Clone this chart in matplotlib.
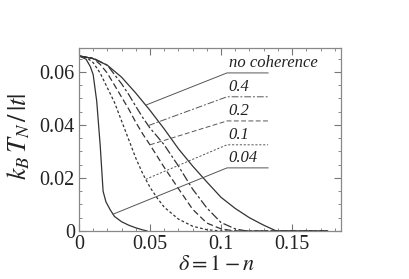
import numpy as np
import matplotlib
matplotlib.use("Agg")
import matplotlib.pyplot as plt
from matplotlib.ticker import MultipleLocator

plt.rcParams['font.family'] = ['Liberation Serif', 'DejaVu Serif']
plt.rcParams['mathtext.fontset'] = 'stix'

# ------------------------------ Data ------------------------------

# no coherence (solid)
x_nc = [0, 0.01, 0.02, 0.03, 0.04, 0.05, 0.06, 0.07, 0.08, 0.09, 0.10, 0.11, 0.12, 0.13, 0.139, 0.175]
y_nc = [0.066, 0.065, 0.0625, 0.058, 0.052, 0.0455, 0.0385, 0.031, 0.0245, 0.0185, 0.0127, 0.0085, 0.005, 0.0022, 0.0, 0.0]

# 0.4 (dash-dot)
x_04 = [0, 0.01, 0.02, 0.03, 0.035, 0.04, 0.045, 0.05, 0.055, 0.06, 0.07, 0.08, 0.09, 0.10, 0.11, 0.118, 0.175]
y_04 = [0.066, 0.0652, 0.0625, 0.0555, 0.0515, 0.047, 0.0427, 0.0388, 0.0357, 0.0325, 0.0245, 0.0158, 0.0087, 0.0032, 0.0008, 0.0, 0.0]

# 0.2 (dashed)
x_02 = [0, 0.01, 0.015, 0.02, 0.025, 0.03, 0.035, 0.04, 0.045, 0.05, 0.06, 0.07, 0.08, 0.09, 0.10, 0.11, 0.175]
y_02 = [0.066, 0.065, 0.0628, 0.0595, 0.055, 0.0505, 0.046, 0.041, 0.0365, 0.0325, 0.024, 0.016, 0.0082, 0.003, 0.0008, 0.0, 0.0]

# 0.1 (short dashes)
x_01 = [0, 0.005, 0.01, 0.015, 0.02, 0.025, 0.03, 0.035, 0.04, 0.045, 0.05, 0.055, 0.06, 0.07, 0.08, 0.09, 0.10, 0.175]
y_01 = [0.066, 0.0655, 0.0635, 0.0595, 0.054, 0.0485, 0.0415, 0.0345, 0.0275, 0.0215, 0.0165, 0.0125, 0.009, 0.0045, 0.0018, 0.0005, 0.0, 0.0]

# 0.04 (solid, steep)
x_004 = [0, 0.005, 0.008, 0.01, 0.0125, 0.015, 0.017, 0.019, 0.022, 0.025, 0.03, 0.035, 0.04, 0.045, 0.048]
y_004 = [0.066, 0.0648, 0.062, 0.059, 0.049, 0.032, 0.015, 0.011, 0.008, 0.0055, 0.0035, 0.0022, 0.0012, 0.0004, 0.0]

labels = ['no coherence', '0.4', '0.2', '0.1', '0.04']
attach_x = [0.0470, 0.0488, 0.050, 0.0470, 0.024]
label_y = [0.0596, 0.0506, 0.0415, 0.0325, 0.0238]

# ------------------------------ Plot ------------------------------

fig = plt.figure(figsize=(4.09, 2.79), dpi=100)
ax = fig.add_axes([0.193, 0.172, 0.641, 0.656])

styles = ['-', (0, (7, 2, 2, 2)), (0, (5, 2.5)), (0, (2.2, 1.8)), '-']
series = [(x_nc, y_nc), (x_04, y_04), (x_02, y_02), (x_01, y_01), (x_004, y_004)]
line_color = '#333333'

lab_x0, lab_x1 = 0.1042, 0.1331
for (xs, ys), ls, lab, ax_x, ly in zip(series, styles, labels, attach_x, label_y):
    ax.plot(xs, ys, color=line_color, lw=0.9, linestyle=ls)
    ay = np.interp(ax_x, xs, ys)
    # leader line and underline
    ax.plot([ax_x, lab_x0, lab_x1], [ay, ly, ly], color='#555555', lw=0.7, linestyle=ls)
    ax.text(lab_x0 + 0.0013, ly + 0.0006, lab, fontsize=12, style='italic',
            ha='left', va='bottom', color='#222222')

ax.set_xlim(0, 0.1845)
ax.set_ylim(0, 0.069)
ax.xaxis.set_minor_locator(MultipleLocator(0.01))
ax.yaxis.set_minor_locator(MultipleLocator(0.005))
ax.set_xticks([0, 0.05, 0.1, 0.15])
ax.set_xticklabels(['0', '0.05', '0.1', '0.15'])
ax.set_yticks([0, 0.02, 0.04, 0.06])
ax.set_yticklabels(['0', '0.02', '0.04', '0.06'])

ax.tick_params(which='both', direction='in', top=True, right=True, color='#777777',
               labelsize=14.5, pad=3, labelcolor='#222222')
ax.tick_params(which='major', length=5, width=0.8)
ax.tick_params(which='minor', length=2.5, width=0.6)
for sp in ax.spines.values():
    sp.set_color('#888888')
    sp.set_linewidth(0.9)

ax.set_xlabel(r'$\delta = \mathit{1} - n$', fontsize=16, labelpad=0, color='#222222')
ax.xaxis.set_label_coords(0.527, -0.135)
ax.set_ylabel(r'$k_B\,T_N\,/\,|t|$', fontsize=19, color='#222222')
ax.yaxis.set_label_coords(-0.18, 0.52)

fig.savefig('out.png', dpi=100)
